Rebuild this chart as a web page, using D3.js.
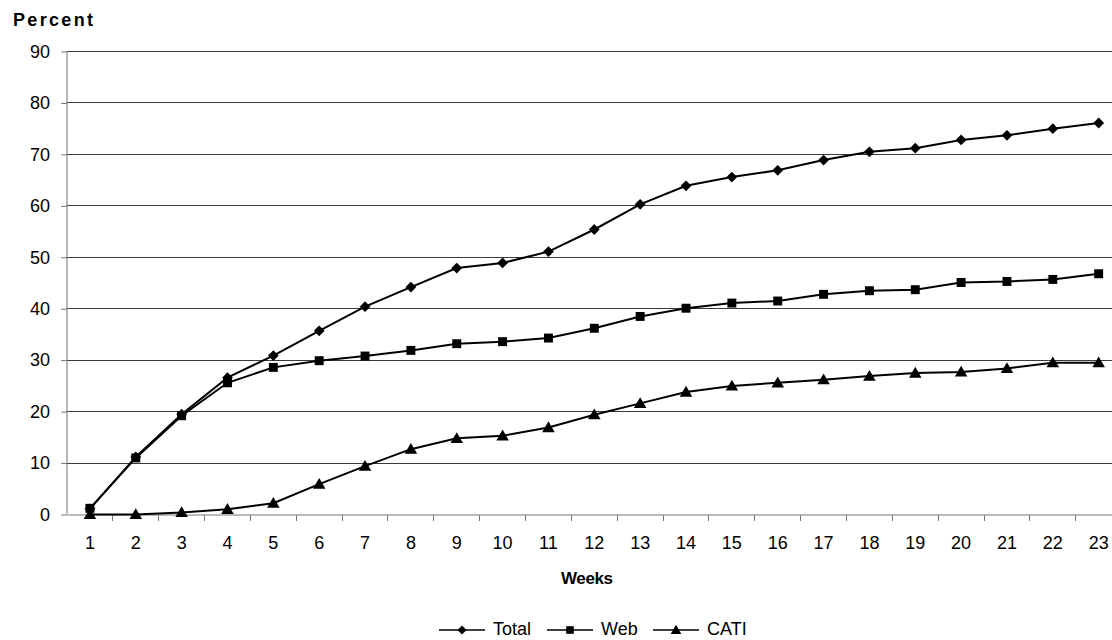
<!DOCTYPE html>
<html><head><meta charset="utf-8">
<script src="https://cdn.jsdelivr.net/npm/d3@7/dist/d3.min.js"></script>
<style>body{margin:0;background:#fff}svg{display:block}text{font-family:Arial,"Liberation Sans",sans-serif}</style>
</head><body>
<svg id="c" width="1112" height="640"></svg>
<script>
const weeks = d3.range(1, 24).map(String);
const total = [1.1,11.2,19.5,26.6,30.9,35.7,40.4,44.2,47.9,48.9,51.1,55.4,60.3,63.9,65.6,66.9,68.9,70.5,71.2,72.8,73.7,75.0,76.1];
const web   = [1.2,11.0,19.2,25.6,28.6,29.9,30.8,31.9,33.2,33.6,34.3,36.2,38.5,40.1,41.1,41.5,42.8,43.5,43.7,45.1,45.3,45.7,46.8];
const cati  = [0.0,0.0,0.4,1.0,2.2,5.9,9.4,12.7,14.8,15.3,16.9,19.4,21.6,23.8,25.0,25.6,26.2,26.9,27.5,27.7,28.4,29.5,29.5];
const yTicks = [0,10,20,30,40,50,60,70,80,90];
const seriesNames = ["Total","Web","CATI"];

const svg = d3.select("#c");
const L = 67, R = 1121.6, T = 51.5, B = 514.5;
const x = d3.scaleBand().domain(weeks).range([L, R]).padding(0);
const y = d3.scaleLinear().domain([0, 90]).range([B, T]);
const FF = "Arial,'Liberation Sans',sans-serif";

// marker shapes: diamond = rotated square
const markers = [
  {type: d3.symbolSquare, size: 58, rot: 45, dy: 0},
  {type: d3.symbolSquare, size: 80, rot: 0, dy: 0},
  {type: d3.symbolTriangle, size: 68, rot: 0, dy: 1}
];
const markerTf = (m, px, py, s) => `translate(${px},${py + m.dy * s})rotate(${m.rot})scale(${s})`;

// gridlines
svg.append("g").selectAll("line").data(yTicks.slice(1)).join("line")
  .attr("x1", L).attr("x2", R).attr("y1", d => y(d)).attr("y2", d => y(d))
  .attr("stroke", "#3a3a3a").attr("stroke-width", 1).attr("shape-rendering","crispEdges");

// y axis
const ya = svg.append("g").attr("transform", `translate(${L},0)`)
  .call(d3.axisLeft(y).tickValues(yTicks).tickSize(6).tickPadding(11));
ya.select(".domain").attr("stroke", "#777").attr("d", `M-0,${T}V${B}`);
ya.selectAll(".tick line").attr("stroke", "#777");
ya.selectAll("text").attr("font-size", 18).attr("fill", "#000").attr("font-family", FF);

// x axis with ticks between categories
const xa = svg.append("g").attr("transform", `translate(0,${B})`)
  .call(d3.axisBottom(x).tickSize(0).tickPadding(22));
xa.select(".domain").attr("stroke", "#777");
xa.selectAll("text").attr("font-size", 18).attr("fill", "#000").attr("font-family", FF);
svg.append("g").selectAll("line").data(weeks.slice(1)).join("line")
  .attr("x1", d => x(d)).attr("x2", d => x(d)).attr("y1", B).attr("y2", B + 6)
  .attr("stroke", "#777").attr("shape-rendering","crispEdges");

// titles
svg.append("text").attr("x", 13).attr("y", 26).attr("font-size", 18).attr("font-weight", "bold")
  .attr("textLength", 80).attr("lengthAdjust", "spacing").text("Percent");
svg.append("text").attr("x", 587).attr("y", 584).attr("text-anchor", "middle").attr("font-size", 17).attr("font-weight", "bold")
  .attr("textLength", 52).attr("lengthAdjust", "spacing").text("Weeks");

// series
const cx = d => x(d) + x.bandwidth() / 2;
const allSeries = [total, web, cati];
const line = d3.line().x((d, i) => cx(weeks[i])).y(d => y(d));
allSeries.forEach(vals => {
  svg.append("path").datum(vals).attr("d", line).attr("fill", "none").attr("stroke", "#000").attr("stroke-width", 2);
});
allSeries.forEach((vals, si) => {
  const m = markers[si];
  svg.append("g").selectAll("path").data(vals).join("path")
    .attr("transform", (d, i) => markerTf(m, cx(weeks[i]), y(d), 1))
    .attr("d", d3.symbol().type(m.type).size(m.size))
    .attr("fill", "#000");
});

// legend
const legX = [439, 547, 653];
seriesNames.forEach((n, i) => {
  const m = markers[i];
  const g = svg.append("g").attr("transform", `translate(${legX[i]},630)`);
  g.append("line").attr("x1", 0).attr("x2", 46).attr("y1", 0).attr("y2", 0).attr("stroke", "#000").attr("stroke-width", 1.5);
  g.append("path").attr("transform", markerTf(m, 23, 0, 0.85)).attr("d", d3.symbol().type(m.type).size(m.size)).attr("fill", "#000");
  g.append("text").attr("x", 54).attr("y", 5).attr("font-size", 18).attr("font-family", FF).text(n);
});
</script>
</body></html>
